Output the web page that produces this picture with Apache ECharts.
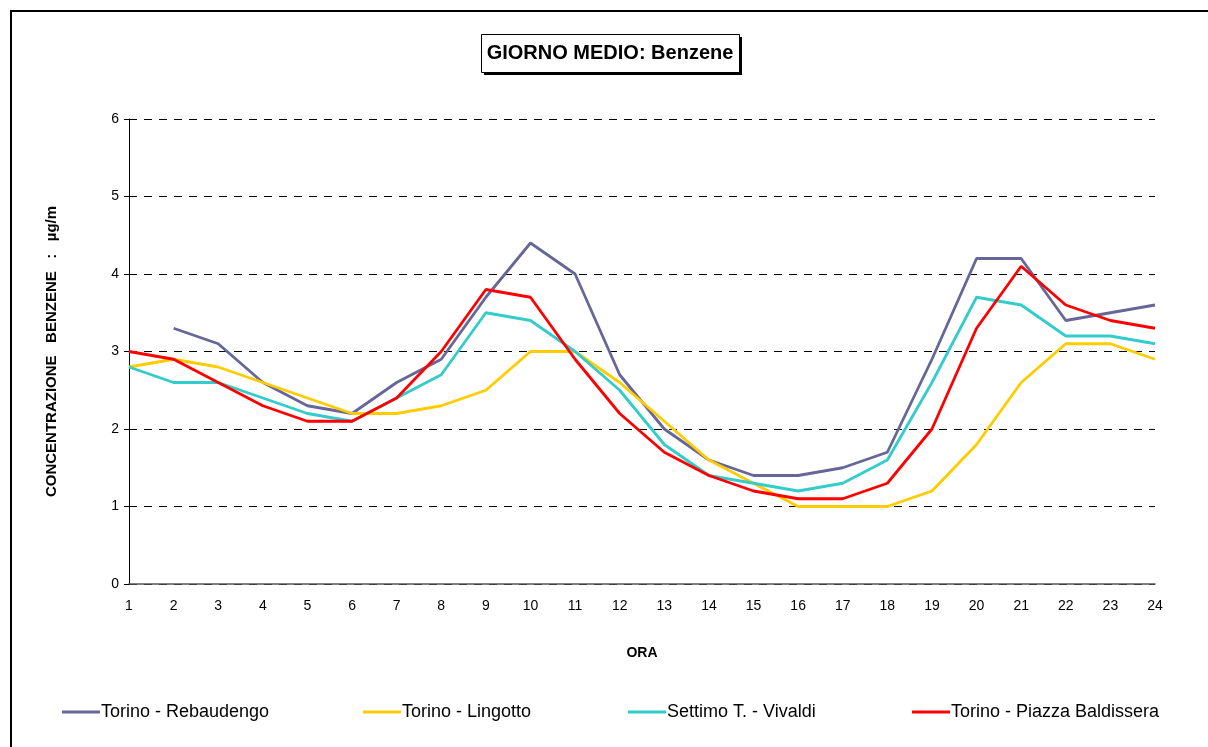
<!DOCTYPE html>
<html>
<head>
<meta charset="utf-8">
<script src="https://cdn.jsdelivr.net/npm/echarts@6/dist/echarts.min.js"></script>
<style>
  html, body { margin: 0; padding: 0; background: #fff; }
  #chart { width: 1208px; height: 747px; }
</style>
</head>
<body>
<div id="chart"></div>
<script>
  // ore del giorno
  const hours = ['1','2','3','4','5','6','7','8','9','10','11','12','13','14','15','16','17','18','19','20','21','22','23','24'];
  const yTicks = [0, 1, 2, 3, 4, 5, 6];

  // concentrazioni medie orarie (µg/m³)
  const rebaudengo = [null, 3.3, 3.1, 2.6, 2.3, 2.2, 2.6, 2.9, 3.7, 4.4, 4.0, 2.7, 2.0, 1.6, 1.4, 1.4, 1.5, 1.7, 2.9, 4.2, 4.2, 3.4, 3.5, 3.6];
  const lingotto = [2.8, 2.9, 2.8, 2.6, 2.4, 2.2, 2.2, 2.3, 2.5, 3.0, 3.0, 2.6, 2.1, 1.6, 1.3, 1.0, 1.0, 1.0, 1.2, 1.8, 2.6, 3.1, 3.1, 2.9];
  const settimo = [2.8, 2.6, 2.6, 2.4, 2.2, 2.1, 2.4, 2.7, 3.5, 3.4, 3.0, 2.5, 1.8, 1.4, 1.3, 1.2, 1.3, 1.6, 2.6, 3.7, 3.6, 3.2, 3.2, 3.1];
  const baldissera = [3.0, 2.9, 2.6, 2.3, 2.1, 2.1, 2.4, 3.0, 3.8, 3.7, 2.9, 2.2, 1.7, 1.4, 1.2, 1.1, 1.1, 1.3, 2.0, 3.3, 4.1, 3.6, 3.4, 3.3];

  const names = ['Torino - Rebaudengo', 'Torino - Lingotto', 'Settimo T. - Vivaldi', 'Torino - Piazza Baldissera'];
  const colors = ['#666699', '#FFCC00', '#33CCCC', '#FF0000'];
  const legendLeft = [62, 363, 628, 912];

  let chart = echarts.init(document.getElementById('chart'));

  const font = 'Liberation Sans, Arial, sans-serif';

  chart.setOption({
    animation: false,
    textStyle: { fontFamily: font },
    graphic: [
      { // cornice esterna
        type: 'rect',
        shape: { x: 11, y: 11, width: 1210, height: 760 },
        style: { fill: 'none', stroke: '#000', lineWidth: 2 },
        silent: true
      },
      { // ombra del riquadro titolo
        type: 'rect',
        shape: { x: 484, y: 37, width: 258, height: 38 },
        style: { fill: '#000' },
        silent: true
      },
      { // riquadro titolo
        type: 'rect',
        shape: { x: 481.5, y: 34.5, width: 258, height: 38 },
        style: { fill: '#fff', stroke: '#000', lineWidth: 1 },
        silent: true
      }
    ],
    title: {
      text: 'GIORNO MEDIO: Benzene',
      left: 610,
      textAlign: 'center',
      top: 43,
      padding: 0,
      z: 10,
      textStyle: { fontSize: 20, fontWeight: 'bold', color: '#000', fontFamily: font }
    },
    legend: names.map((n, i) => ({
      data: [n],
      left: legendLeft[i],
      top: 703,
      padding: 0,
      itemWidth: 38,
      itemHeight: 3,
      itemGap: 0,
      icon: 'rect',
      textStyle: { fontSize: 18, color: '#000', fontFamily: font, padding: [0, 0, 0, -4] }
    })),
    grid: { left: 129, right: 53, top: 119, bottom: 163 },
    xAxis: {
      type: 'category',
      data: hours,
      boundaryGap: false,
      name: 'ORA',
      nameLocation: 'middle',
      nameGap: 62,
      nameTextStyle: { fontSize: 14, fontWeight: 'bold', color: '#000' },
      axisLine: { lineStyle: { color: '#555', width: 1.5 } },
      axisTick: { show: false },
      axisLabel: { fontSize: 14, color: '#000', margin: 15 }
    },
    yAxis: {
      type: 'value',
      min: yTicks[0],
      max: yTicks[yTicks.length - 1],
      interval: 1,
      name: 'CONCENTRAZIONE   BENZENE   :   µg/m',
      nameLocation: 'middle',
      nameGap: 70,
      nameTextStyle: { fontSize: 15, fontWeight: 'bold', color: '#000' },
      axisLine: { show: true, lineStyle: { color: '#000', width: 1 } },
      axisTick: { show: true, length: 5, lineStyle: { color: '#000' } },
      axisLabel: { fontSize: 14, color: '#000', margin: 10 },
      splitLine: { lineStyle: { color: '#000', type: [8, 7], width: 1 } }
    },
    series: [rebaudengo, lingotto, settimo, baldissera].map((d, i) => ({
      name: names[i],
      type: 'line',
      data: d,
      symbol: 'none',
      color: colors[i],
      lineStyle: { width: 2.8, color: colors[i] }
    }))
  });
</script>
</body>
</html>
